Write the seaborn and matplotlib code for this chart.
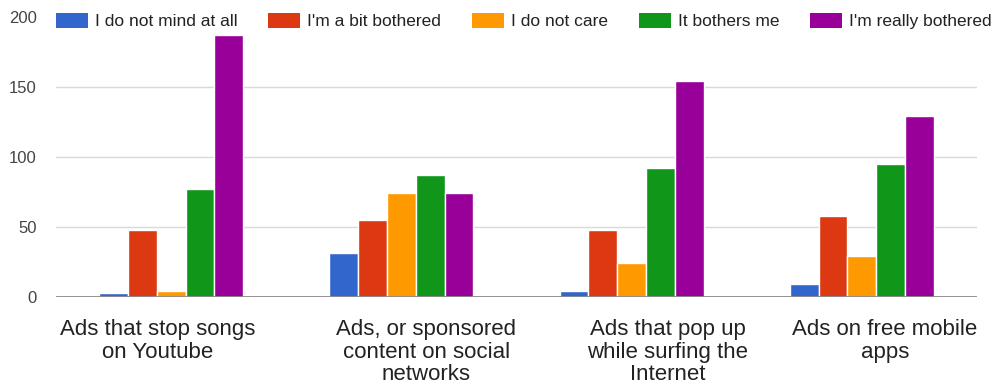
import matplotlib
matplotlib.use("Agg")
import matplotlib.pyplot as plt
import matplotlib.transforms as mtransforms
import seaborn as sns
import pandas as pd

categories = ["Youtube songs", "Social networks", "Pop up", "Mobile apps"]
tick_labels = [
    "Ads that stop songs\non Youtube",
    "Ads, or sponsored\ncontent on social\nnetworks",
    "Ads that pop up\nwhile surfing the\nInternet",
    "Ads on free mobile\napps",
]
responses = ["I do not mind at all", "I'm a bit bothered", "I do not care",
             "It bothers me", "I'm really bothered"]
do_not_mind = [2.5, 31, 4, 9]
bit_bothered = [48, 55, 48, 58]
do_not_care = [4, 74, 24, 29]
bothers_me = [77, 87, 92, 95]
really_bothered = [187, 74, 154, 129]
colors = ["#3366cc", "#dc3912", "#ff9900", "#109618", "#990099"]
y_ticks = [0, 50, 100, 150, 200]

series = [do_not_mind, bit_bothered, do_not_care, bothers_me, really_bothered]
rows = []
for resp, vals in zip(responses, series):
    for cat, v in zip(categories, vals):
        rows.append({"category": cat, "response": resp, "value": v})
df = pd.DataFrame(rows)

sns.set_style("white")
plt.rcParams["font.family"] = ["Liberation Sans", "DejaVu Sans"]

fig = plt.figure(figsize=(9.97, 3.87), dpi=100)
W, H = 997, 387
ax = fig.add_axes([56 / W, (H - 296.7) / H, 921 / W, 280 / H])

sns.barplot(data=df, x="category", y="value", hue="response",
            order=categories, hue_order=responses, palette=colors,
            saturation=1, width=0.625, edgecolor="white", linewidth=1.0,
            errorbar=None, ax=ax, zorder=3)

ax.set_ylim(0, 200)
ax.set_xlim(-0.5, len(categories) - 0.5)
ax.set_yticks(y_ticks)
ax.set_yticklabels([str(t) for t in y_ticks], fontsize=12, color="#444444")
for t in [50, 100, 150]:
    ax.axhline(t, color="#d9d9d9", linewidth=1.0, zorder=1)
ax.axhline(0, color="#8a8a8a", linewidth=2.0, zorder=4)

ax.set_xticks(range(len(categories)))
ax.set_xticklabels(tick_labels, fontsize=16, color="#222222", linespacing=1.1)
ax.tick_params(axis="x", length=0, pad=16)
ax.tick_params(axis="y", length=0, pad=14)
offsets_px = [-13, 25, 36, 23]
for lab, dx in zip(ax.get_xticklabels(), offsets_px):
    lab.set_transform(lab.get_transform() +
                      mtransforms.ScaledTranslation(dx / 100, 0, fig.dpi_scale_trans))

ax.set_xlabel("")
ax.set_ylabel("")
for s in ["top", "right", "left", "bottom"]:
    ax.spines[s].set_visible(False)

handles, labels = ax.get_legend_handles_labels()
if ax.get_legend() is not None:
    ax.get_legend().remove()
for h in handles:
    h.set_edgecolor("none")
fig.legend(handles, labels, loc="center left", bbox_to_anchor=(56 / W, 1 - 21 / H),
           ncol=5, frameon=False, fontsize=12.5, handlelength=1.84,
           handleheight=0.98, handletextpad=0.4, columnspacing=1.78,
           borderpad=0, borderaxespad=0, labelcolor="#222222")

fig.savefig("out.png", dpi=100)
